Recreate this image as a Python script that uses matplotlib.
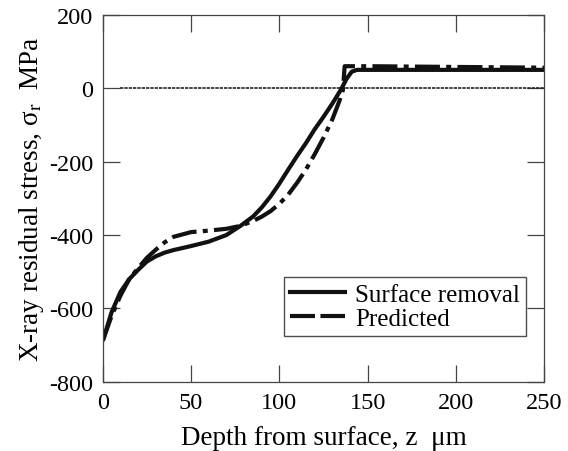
import matplotlib
matplotlib.use("Agg")
import matplotlib.pyplot as plt
from matplotlib.lines import Line2D

plt.rcParams['font.family'] = ['Liberation Serif', 'DejaVu Serif']
plt.rcParams['mathtext.fontset'] = 'stix'
plt.rcParams['axes.unicode_minus'] = False

# surface removal measurement
depth_sr = [0, 5, 10, 15, 20, 25, 30, 35, 40, 50, 60, 70, 78, 85, 90, 95, 100,
            105, 110, 115, 120, 125, 130, 135, 138, 141, 144, 150, 200, 250]
stress_sr = [-688, -610, -555, -520, -495, -472, -458, -448, -441, -430, -418,
             -400, -375, -350, -325, -295, -260, -222, -185, -150, -112, -78,
             -42, -3, 25, 45, 50, 50, 50, 50]

# predicted
depth_pr = [0, 5, 10, 15, 20, 25, 30, 35, 40, 50, 60, 70, 78, 85, 90, 95, 100,
            105, 110, 115, 120, 125, 130, 134, 136, 137, 150, 200, 250]
stress_pr = [-688, -620, -565, -520, -490, -462, -440, -420, -405, -392, -388,
             -383, -375, -362, -350, -335, -315, -290, -258, -222, -180, -135,
             -85, -35, -5, 60, 60, 58, 56]

zero_x = [10, 250]
zero_y = [0, 0]

fig = plt.figure(figsize=(5.68, 4.52), dpi=100)
ax = fig.add_axes([0.181, 0.153, 0.777, 0.812])

ax.plot(zero_x, zero_y, color='#222222', lw=1.2, linestyle=(0, (2, 0.6)))
ax.plot(depth_sr, stress_sr, color='#111111', lw=3, solid_capstyle='butt')
ax.plot(depth_pr, stress_pr, color='#111111', lw=3,
        linestyle=(0, (6, 1.5, 1.2, 1.5)))

ax.set_xlim(0, 250)
ax.set_ylim(-800, 200)
ax.set_xticks([0, 50, 100, 150, 200, 250])
ax.set_yticks([-800, -600, -400, -200, 0, 200])
ax.tick_params(direction='in', length=12, width=0.9, top=True, right=True,
               labelsize=17.5, pad=7, color='#444444')
for s in ax.spines.values():
    s.set_linewidth(0.9)
    s.set_color('#444444')

ax.set_xlabel('Depth from surface, z  μm', fontsize=19.5, labelpad=9)
ax.set_ylabel('X-ray residual stress, σ$_{\\mathrm{r}}$  MPa', fontsize=19.5,
              labelpad=2)

handles = [Line2D([], [], color='#111111', lw=3),
           Line2D([], [], color='#111111', lw=3, linestyle=(0, (6, 1.3)))]
leg = ax.legend(handles, ['Surface removal', 'Predicted'], loc='lower right',
                bbox_to_anchor=(0.96, 0.125), borderaxespad=0, fontsize=18,
                frameon=True, fancybox=False, edgecolor='#222222',
                handlelength=2.2, borderpad=0.25, labelspacing=0.05,
                handletextpad=0.4)
leg.get_frame().set_linewidth(1.0)

fig.savefig('out.png', dpi=100)
